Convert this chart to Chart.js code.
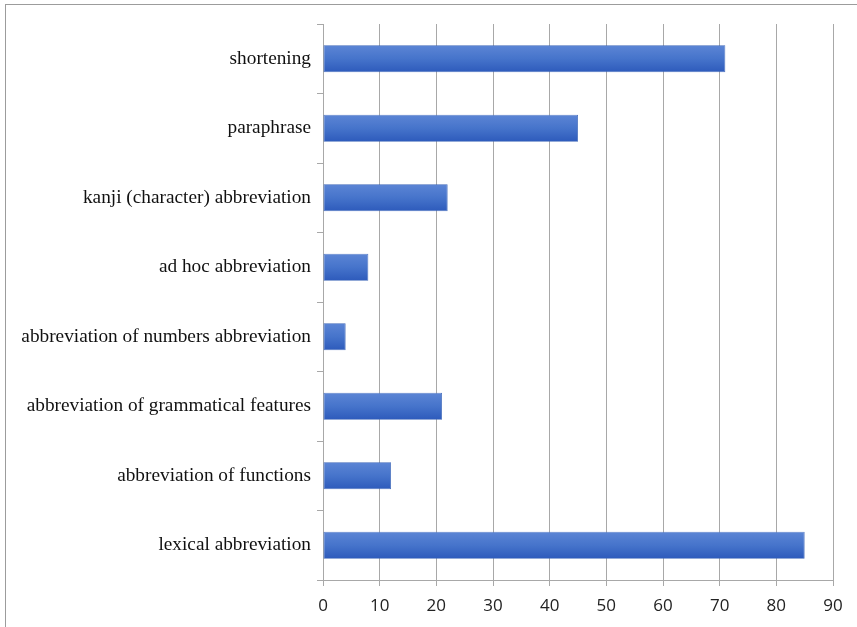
<!DOCTYPE html>
<html lang="en">
<head>
  <meta charset="UTF-8">
  <title>Abbreviation types</title>
  <script src="https://cdn.jsdelivr.net/npm/chart.js"></script>
  <style>
    * {
      margin: 0;
      padding: 0;
      box-sizing: border-box;
    }

    body {
      background: white;
      width: 857px;
      height: 627px;
      overflow: hidden;
      position: relative;
    }

    .frame {
      position: absolute;
      left: 5px;
      top: 4px;
      width: 900px;
      height: 700px;
      border: 1.5px solid #9c9c9c;
    }

    .chart-box {
      position: absolute;
      left: 0;
      top: 0;
      width: 857px;
      height: 627px;
    }
  </style>
</head>
<body>
  <div class="frame"></div>
  <div class="chart-box">
    <canvas id="abbrChart" width="857" height="627"></canvas>
  </div>

  <script>
    const categories = [
      'shortening',
      'paraphrase',
      'kanji (character) abbreviation',
      'ad hoc abbreviation',
      'abbreviation of numbers abbreviation',
      'abbreviation of grammatical features',
      'abbreviation of functions',
      'lexical abbreviation'
    ];
    const counts = [71, 45, 22, 8, 4, 21, 12, 85];
    const xTicks = [0, 10, 20, 30, 40, 50, 60, 70, 80, 90];

    const BAR_FRACTION = 0.39;

    // vertical gradient per bar, light on top, darker below
    function barFill(ctx) {
      const chart = ctx.chart;
      const area = chart.chartArea;
      const yScale = chart.scales.y;
      if (!area || !yScale) return '#4470c8';
      const centre = yScale.getPixelForValue(ctx.dataIndex);
      const half = (area.bottom - area.top) / categories.length * BAR_FRACTION / 2;
      const g = chart.ctx.createLinearGradient(0, centre - half, 0, centre + half);
      g.addColorStop(0, '#5c85d5');
      g.addColorStop(0.5, '#4674cb');
      g.addColorStop(1, '#2d5abb');
      return g;
    }

    const ctx = document.getElementById('abbrChart').getContext('2d');
    new Chart(ctx, {
      type: 'bar',
      data: {
        labels: categories,
        datasets: [{
          data: counts,
          backgroundColor: barFill,
          borderColor: '#3f68b8',
          borderWidth: 0.8,
          borderSkipped: false,
          categoryPercentage: 1,
          barPercentage: BAR_FRACTION
        }]
      },
      options: {
        indexAxis: 'y',
        responsive: false,
        animation: false,
        layout: {
          padding: { left: 0, right: 24, top: 24, bottom: 0 }
        },
        plugins: {
          legend: { display: false },
          tooltip: { enabled: false }
        },
        scales: {
          x: {
            min: 0,
            max: 90,
            afterBuildTicks: (scale) => {
              scale.ticks = xTicks.map(v => ({ value: v }));
            },
            afterFit: (scale) => { scale.height = 47; },
            grid: {
              color: '#a8a8a8',
              lineWidth: 1,
              tickLength: 6,
              drawTicks: true
            },
            border: { display: true, color: '#a8a8a8' },
            ticks: {
              padding: 10,
              color: '#222',
              font: { family: "'Open Sans', sans-serif", size: 17 }
            }
          },
          y: {
            afterFit: (scale) => { scale.width = 323; },
            grid: {
              drawOnChartArea: false,
              color: '#a8a8a8',
              tickLength: 6
            },
            border: { display: true, color: '#a8a8a8' },
            ticks: {
              padding: 6,
              color: '#111',
              font: { family: "'Liberation Serif', serif", size: 19.3 }
            }
          }
        }
      }
    });
  </script>
</body>
</html>
